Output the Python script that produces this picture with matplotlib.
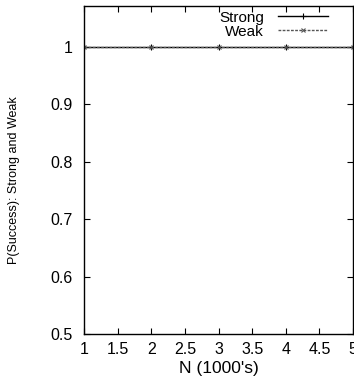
import matplotlib
matplotlib.use('Agg')
import matplotlib.pyplot as plt

# success probability vs N (in thousands)
n_vals = [1, 2, 3, 4, 5]
strong = [1.0, 1.0, 1.0, 1.0, 1.0]
weak = [1.0, 1.0, 1.0, 1.0, 1.0]

xticks = [1, 1.5, 2, 2.5, 3, 3.5, 4, 4.5, 5]
xtick_labels = ['1', '1.5', '2', '2.5', '3', '3.5', '4', '4.5', '5']
yticks = [0.5, 0.6, 0.7, 0.8, 0.9, 1.0]
ytick_labels = ['0.5', '0.6', '0.7', '0.8', '0.9', '1']

plt.rcParams['font.family'] = ['Liberation Sans', 'DejaVu Sans']

fig = plt.figure(figsize=(3.54, 3.81), dpi=100)
ax = fig.add_axes([84 / 354, 1 - 334 / 381, 269 / 354, 328 / 381])

ax.plot(n_vals, strong, color='black', lw=1.0, marker='+', ms=4, mew=0.8, label='Strong')
ax.plot(n_vals, weak, color='#555555', lw=1.0, ls=(0, (2, 1)), marker='x', ms=3, mew=0.8, label='Weak')

ax.set_xlim(1, 5)
ax.set_ylim(0.5, 1.0714)
ax.set_xticks(xticks)
ax.set_xticklabels(xtick_labels)
ax.set_yticks(yticks)
ax.set_yticklabels(ytick_labels)
ax.tick_params(direction='in', top=True, right=True, length=4, width=0.8, labelsize=11.5)
ax.tick_params(axis='y', pad=8)
ax.tick_params(axis='x', pad=6)
for s in ax.spines.values():
    s.set_linewidth(1.0)

ax.set_xlabel("N (1000's)", fontsize=12.5, labelpad=3)
ax.set_ylabel('P(Success): Strong and Weak', fontsize=9)
ax.yaxis.set_label_coords(-64 / 269, 0.47)

leg = ax.legend(loc='upper right', bbox_to_anchor=(0.907, 0.986), frameon=False,
                fontsize=11, markerfirst=False, handlelength=3.3, handletextpad=0.9,
                labelspacing=0.0, borderaxespad=0, borderpad=0)

fig.savefig('out.png', dpi=100)
